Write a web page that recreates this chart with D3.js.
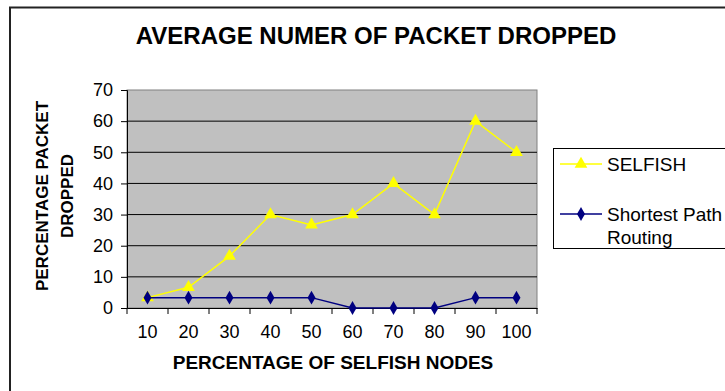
<!DOCTYPE html>
<html>
<head>
<meta charset="utf-8">
<script src="https://cdn.jsdelivr.net/npm/d3@7"></script>
<style>
  html, body { margin: 0; padding: 0; background: #fff; }
  svg { display: block; font-family: "Liberation Sans", Arial, sans-serif; }
</style>
</head>
<body>
<svg id="chart" width="725" height="391"></svg>
<script>
// Percentage of selfish nodes (x categories)
const categories = ["10", "20", "30", "40", "50", "60", "70", "80", "90", "100"];
// Percentage of packets dropped per scheme
const selfish = [3.33, 6.67, 16.67, 30, 26.67, 30, 40, 30, 60, 50];
const shortestPath = [3.33, 3.33, 3.33, 3.33, 3.33, 0, 0, 0, 3.33, 3.33];
const yTicks = [0, 10, 20, 30, 40, 50, 60, 70];

const svg = d3.select("#chart");
const plot = { left: 127, right: 537, top: 90, bottom: 308 };

const x = d3.scaleBand().domain(categories).range([plot.left, plot.right]).padding(0);
const y = d3.scaleLinear().domain([0, 70]).range([plot.bottom, plot.top]);
const cx = d => x(d) + x.bandwidth() / 2;

// outer frame (top and left edges)
svg.append("path")
  .attr("d", "M10,391 L10,7.5 L725,7.5")
  .attr("fill", "none").attr("stroke", "#222").attr("stroke-width", 2);

// title
svg.append("text")
  .attr("x", 376).attr("y", 44)
  .attr("text-anchor", "middle")
  .attr("font-size", 24).attr("font-weight", "bold")
  .text("AVERAGE NUMER OF PACKET DROPPED");

// plot background
svg.append("rect")
  .attr("x", plot.left).attr("y", plot.top)
  .attr("width", plot.right - plot.left).attr("height", plot.bottom - plot.top)
  .attr("fill", "#c0c0c0").attr("stroke", "#808080").attr("stroke-width", 1);

// horizontal grid
svg.append("g").selectAll("line")
  .data(yTicks.filter(t => t > 0 && t < 70))
  .join("line")
  .attr("x1", plot.left).attr("x2", plot.right)
  .attr("y1", d => y(d)).attr("y2", d => y(d))
  .attr("stroke", "#000").attr("stroke-width", 1);

// y axis
const yAxis = svg.append("g")
  .attr("transform", `translate(${plot.left},0)`)
  .call(d3.axisLeft(y).tickValues(yTicks).tickSize(6).tickPadding(8));
yAxis.selectAll("path,line").attr("stroke", "#000");
yAxis.selectAll("text").attr("font-size", 18).attr("fill", "#000")
  .attr("font-family", "Liberation Sans, Arial, sans-serif");

// x axis: labels centred in each band, ticks on band boundaries
const xAxis = svg.append("g")
  .attr("transform", `translate(0,${plot.bottom})`)
  .call(d3.axisBottom(x).tickSize(0).tickPadding(17));
xAxis.select("path").attr("stroke", "#000");
xAxis.selectAll("text").attr("font-size", 18).attr("fill", "#000")
  .attr("font-family", "Liberation Sans, Arial, sans-serif");
svg.append("g").selectAll("line")
  .data(categories.concat(["end"]))
  .join("line")
  .attr("x1", (d, i) => plot.left + i * x.bandwidth())
  .attr("x2", (d, i) => plot.left + i * x.bandwidth())
  .attr("y1", plot.bottom).attr("y2", plot.bottom + 6)
  .attr("stroke", "#000");

// axis titles
svg.append("text")
  .attr("x", 333).attr("y", 369)
  .attr("text-anchor", "middle")
  .attr("font-size", 19).attr("font-weight", "bold")
  .text("PERCENTAGE OF SELFISH NODES");

const yTitle = svg.append("text")
  .attr("transform", "translate(48,196) rotate(-90)")
  .attr("text-anchor", "middle")
  .attr("font-size", 17).attr("font-weight", "bold");
yTitle.append("tspan").attr("x", 0).attr("y", 0).text("PERCENTAGE PACKET");
yTitle.append("tspan").attr("x", 0).attr("y", 25).text("DROPPED");

// series
const series = [
  { name: "SELFISH", values: selfish, color: "#ffff00", marker: d3.symbolTriangle, size: 70 },
  { name: "Shortest Path Routing", values: shortestPath, color: "#000080", marker: d3.symbolDiamond, size: 55 }
];

const line = d3.line().x((d, i) => cx(categories[i])).y(d => y(d));

series.forEach(s => {
  svg.append("path")
    .datum(s.values)
    .attr("d", line)
    .attr("fill", "none").attr("stroke", s.color).attr("stroke-width", 1.5);
  svg.append("g").selectAll("path")
    .data(s.values)
    .join("path")
    .attr("transform", (d, i) => `translate(${cx(categories[i])},${y(d)})`)
    .attr("d", d3.symbol().type(s.marker).size(s.size))
    .attr("fill", s.color);
});

// legend
const legend = svg.append("g");
legend.append("rect")
  .attr("x", 553.5).attr("y", 148.5).attr("width", 200).attr("height", 100)
  .attr("fill", "#fff").attr("stroke", "#000").attr("stroke-width", 1);

const legendRows = [
  { s: series[0], y: 164, lines: ["SELFISH"] },
  { s: series[1], y: 214, lines: ["Shortest Path", "Routing"] }
];
legendRows.forEach(r => {
  legend.append("line")
    .attr("x1", 560).attr("x2", 602).attr("y1", r.y).attr("y2", r.y)
    .attr("stroke", r.s.color).attr("stroke-width", 1.5);
  legend.append("path")
    .attr("transform", `translate(581,${r.y})`)
    .attr("d", d3.symbol().type(r.s.marker).size(r.s.size))
    .attr("fill", r.s.color);
  const t = legend.append("text").attr("font-size", 19).attr("fill", "#000");
  r.lines.forEach((ln, i) => {
    t.append("tspan").attr("x", 607).attr("y", r.y + 7 + i * 23).text(ln);
  });
});
</script>
</body>
</html>
